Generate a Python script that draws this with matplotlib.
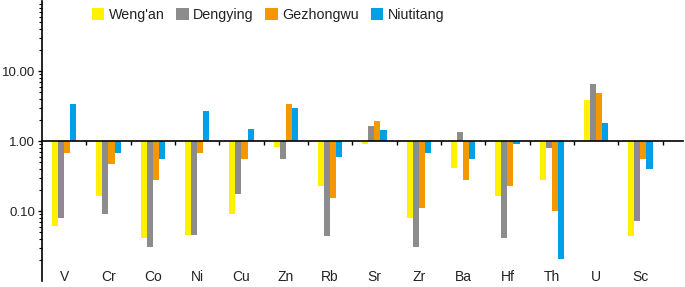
import numpy as np
import matplotlib.pyplot as plt
from matplotlib.ticker import FixedLocator, NullFormatter, LogLocator

plt.rcParams['font.family'] = ['Liberation Sans', 'DejaVu Sans']

# element ratios (normalised, 1.00 = baseline)
elements = ['V', 'Cr', 'Co', 'Ni', 'Cu', 'Zn', 'Rb', 'Sr', 'Zr', 'Ba', 'Hf', 'Th', 'U', 'Sc']
wengan = [0.061, 0.164, 0.041, 0.046, 0.092, 0.82, 0.228, 0.90, 0.080, 0.416, 0.164, 0.277, 3.85, 0.0435]
dengying = [0.080, 0.090, 0.031, 0.046, 0.173, 0.55, 0.0435, 1.66, 0.031, 1.36, 0.041, 0.785, 6.45, 0.071]
gezhongwu = [0.68, 0.47, 0.277, 0.68, 0.55, 3.34, 0.155, 1.95, 0.109, 0.277, 0.228, 0.10, 4.9, 0.55]
niutitang = [3.34, 0.68, 0.55, 2.71, 1.48, 2.93, 0.60, 1.42, 0.68, 0.55, 0.90, 0.0204, 1.81, 0.40]

series = [("Weng'an", wengan, '#FFF100'),
          ('Dengying', dengying, '#8C8C8C'),
          ('Gezhongwu', gezhongwu, '#F39800'),
          ('Niutitang', niutitang, '#00A0E9')]

fig = plt.figure(figsize=(6.85, 2.87), dpi=100)
ax = fig.add_axes([42 / 685, 6 / 287, 641 / 685, 280 / 287])

x = np.arange(len(elements))
w = 0.136
for i, (name, vals, col) in enumerate(series):
    vals = np.array(vals)
    ax.bar(x + (i - 1.5) * w, vals - 1, bottom=1, width=w, color=col, label=name)

ax.set_yscale('log')
ax.set_ylim(0.01, 100)
ax.set_xlim(-0.5, 13.96)

# y axis
ax.yaxis.set_major_locator(FixedLocator([0.1, 1, 10]))
ax.set_yticklabels(['0.10', '1.00', '10.00'])
ax.yaxis.set_minor_locator(LogLocator(base=10, subs=np.arange(2, 10)))
ax.yaxis.set_minor_formatter(NullFormatter())
ax.tick_params(axis='y', which='major', length=3, width=1, labelsize=9.5, pad=2,
               labelcolor='#222222')
ax.tick_params(axis='y', which='minor', length=2, width=0.8)

# x axis sits on the 1.00 line
for s in ['top', 'right']:
    ax.spines[s].set_visible(False)
ax.spines['bottom'].set_position(('data', 1))
ax.spines['left'].set_linewidth(1.2)
ax.spines['bottom'].set_linewidth(1.2)
ax.set_xticks(x)
ax.set_xticklabels([])
ax.set_xticks(np.arange(0.5, 14, 1), minor=True)
ax.tick_params(axis='x', which='major', length=0)
ax.tick_params(axis='x', which='minor', direction='out', length=3, width=1)

for xi, lab in zip(x, elements):
    ax.text(xi, 0.016, lab, transform=ax.get_xaxis_transform(),
            ha='center', va='center', fontsize=10, color='#222222')

ax.legend(loc='upper left', bbox_to_anchor=(0.064, 1.005), ncol=4, frameon=False,
          fontsize=10.3, handlelength=0.9, handleheight=0.9, handletextpad=0.3,
          columnspacing=0.8, borderaxespad=0.2, labelcolor='#222222')

fig.savefig('out.png', dpi=100)
